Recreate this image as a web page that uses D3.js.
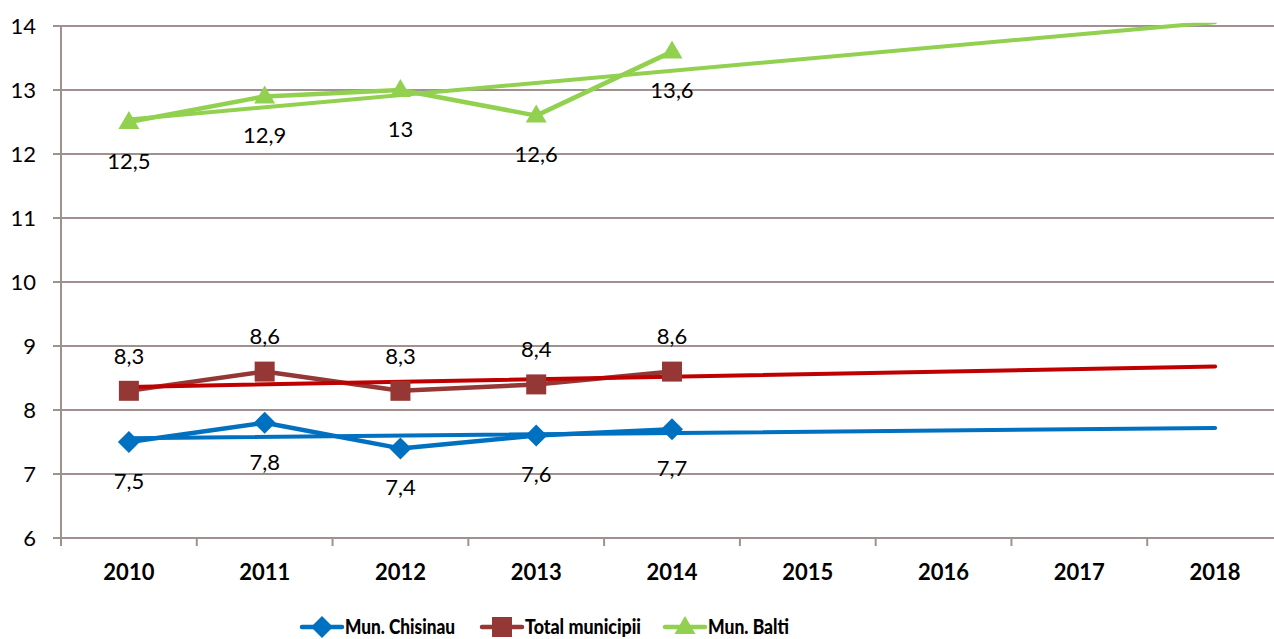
<!DOCTYPE html>
<html>
<head>
<meta charset="utf-8">
<script src="https://cdn.jsdelivr.net/npm/d3@7"></script>
<style>
  html, body { margin: 0; padding: 0; background: #fff; }
  svg { display: block; }
</style>
</head>
<body>
<svg id="chart" width="1274" height="639"></svg>
<script>
// Years on the category axis (data recorded 2010–2014, trends projected to 2018)
const years = ["2010", "2011", "2012", "2013", "2014", "2015", "2016", "2017", "2018"];
const dataYears = ["2010", "2011", "2012", "2013", "2014"];

// Series values
const chisinau = [7.5, 7.8, 7.4, 7.6, 7.7];
const totalMunicipii = [8.3, 8.6, 8.3, 8.4, 8.6];
const balti = [12.5, 12.9, 13, 12.6, 13.6];

// Linear trend lines: value at 2010 and at 2018
const chisinauTrend = [7.56, 7.72];
const totalTrend = [8.36, 8.68];
const baltiTrend = [12.54, 14.06];

const yTicks = [6, 7, 8, 9, 10, 11, 12, 13, 14];

const series = [
  { name: "Mun. Chisinau", values: chisinau, trend: chisinauTrend, color: "#0070C0", trendColor: "#0070C0", marker: "diamond", labelPos: "below" },
  { name: "Total municipii", values: totalMunicipii, trend: totalTrend, color: "#953735", trendColor: "#C00000", marker: "square", labelPos: "above" },
  { name: "Mun. Balti", values: balti, trend: baltiTrend, color: "#92D050", trendColor: "#92D050", marker: "triangle", labelPos: "below" }
];

const svg = d3.select("#chart");
const plotLeft = 61, plotRight = 1283, plotTop = 26, plotBottom = 538;
const fontFamily = "Lato, 'Open Sans', sans-serif";

const x = d3.scaleBand().domain(years).range([plotLeft, plotRight]);
const xc = d => x(d) + x.bandwidth() / 2;
const y = d3.scaleLinear().domain([6, 14]).range([plotBottom, plotTop]);

const gridColor = "#A09191";

// Horizontal gridlines with small ticks left of the axis
svg.append("g").selectAll("line").data(yTicks).join("line")
  .attr("x1", plotLeft - 8).attr("x2", 1274)
  .attr("y1", d => y(d)).attr("y2", d => y(d))
  .attr("stroke", gridColor).attr("stroke-width", 2);

// Vertical axis line
svg.append("line")
  .attr("x1", plotLeft).attr("x2", plotLeft)
  .attr("y1", y(14)).attr("y2", plotBottom + 8)
  .attr("stroke", gridColor).attr("stroke-width", 2);

// Category tick marks below the baseline
svg.append("g").selectAll("line").data(years.slice(1)).join("line")
  .attr("x1", d => x(d)).attr("x2", d => x(d))
  .attr("y1", plotBottom).attr("y2", plotBottom + 8)
  .attr("stroke", gridColor).attr("stroke-width", 2);

// Y tick labels
svg.append("g").selectAll("text").data(yTicks).join("text")
  .attr("x", 36).attr("y", d => y(d))
  .attr("dy", "0.35em")
  .attr("text-anchor", "end")
  .attr("font-family", fontFamily)
  .attr("font-size", 22)
  .attr("fill", "#000")
  .text(d => d);

// X tick labels
svg.append("g").selectAll("text").data(years).join("text")
  .attr("x", d => xc(d)).attr("y", 572)
  .attr("dy", "0.35em")
  .attr("text-anchor", "middle")
  .attr("font-family", fontFamily)
  .attr("font-weight", "bold")
  .attr("font-size", 22)
  .attr("fill", "#000")
  .text(d => d);

// Clip plotted lines to the plot area
svg.append("defs").append("clipPath").attr("id", "plotClip")
  .append("rect").attr("x", plotLeft).attr("y", y(14.05))
  .attr("width", 1274 - plotLeft).attr("height", plotBottom - y(14.05));

const plot = svg.append("g").attr("clip-path", "url(#plotClip)");

function markerPath(type, cx, cy) {
  if (type === "diamond") {
    const r = 11;
    return `M${cx},${cy - r}L${cx + r},${cy}L${cx},${cy + r}L${cx - r},${cy}Z`;
  }
  if (type === "square") {
    const h = 10;
    return `M${cx - h},${cy - h}H${cx + h}V${cy + h}H${cx - h}Z`;
  }
  // triangle
  return `M${cx},${cy - 11}L${cx + 10.5},${cy + 7}L${cx - 10.5},${cy + 7}Z`;
}

const line = d3.line().x((d, i) => xc(dataYears[i])).y(d => y(d));

series.forEach(s => {
  // data line
  plot.append("path")
    .datum(s.values)
    .attr("d", line)
    .attr("fill", "none")
    .attr("stroke", s.color)
    .attr("stroke-width", 4.5)
    .attr("stroke-linejoin", "round");
});

series.forEach(s => {
  // trend line from 2010 to 2018
  plot.append("line")
    .attr("x1", xc(years[0])).attr("y1", y(s.trend[0]))
    .attr("x2", xc(years[years.length - 1])).attr("y2", y(s.trend[1]))
    .attr("stroke", s.trendColor)
    .attr("stroke-width", 4)
    .attr("stroke-linecap", "round");
});

series.forEach(s => {
  // markers
  svg.append("g").selectAll("path").data(s.values).join("path")
    .attr("d", (d, i) => markerPath(s.marker, xc(dataYears[i]), y(d)))
    .attr("fill", s.color);

  // value labels
  svg.append("g").selectAll("text").data(s.values).join("text")
    .attr("x", (d, i) => xc(dataYears[i]))
    .attr("y", d => y(d) + (s.labelPos === "below" ? 39 : -35))
    .attr("dy", "0.35em")
    .attr("text-anchor", "middle")
    .attr("font-family", fontFamily)
    .attr("font-size", 22)
    .attr("fill", "#000")
    .text(d => String(d).replace(".", ","));
});

// Legend
const legendItems = [
  { s: series[0], x0: 302, w: 110 },
  { s: series[1], x0: 482, w: 116 },
  { s: series[2], x0: 665, w: 81 }
];
const ly = 627;
legendItems.forEach(({ s, x0, w }) => {
  const g = svg.append("g");
  g.append("line")
    .attr("x1", x0).attr("x2", x0 + 40)
    .attr("y1", ly).attr("y2", ly)
    .attr("stroke", s.color).attr("stroke-width", 4.5)
    .attr("stroke-linecap", "round");
  g.append("path")
    .attr("d", markerPath(s.marker, x0 + 20, ly))
    .attr("fill", s.color);
  g.append("text")
    .attr("x", x0 + 43).attr("y", ly)
    .attr("dy", "0.35em")
    .attr("font-family", fontFamily)
    .attr("font-weight", "900")
    .attr("font-size", 21)
    .attr("textLength", w)
    .attr("lengthAdjust", "spacingAndGlyphs")
    .attr("fill", "#000")
    .text(s.name);
});
</script>
</body>
</html>
